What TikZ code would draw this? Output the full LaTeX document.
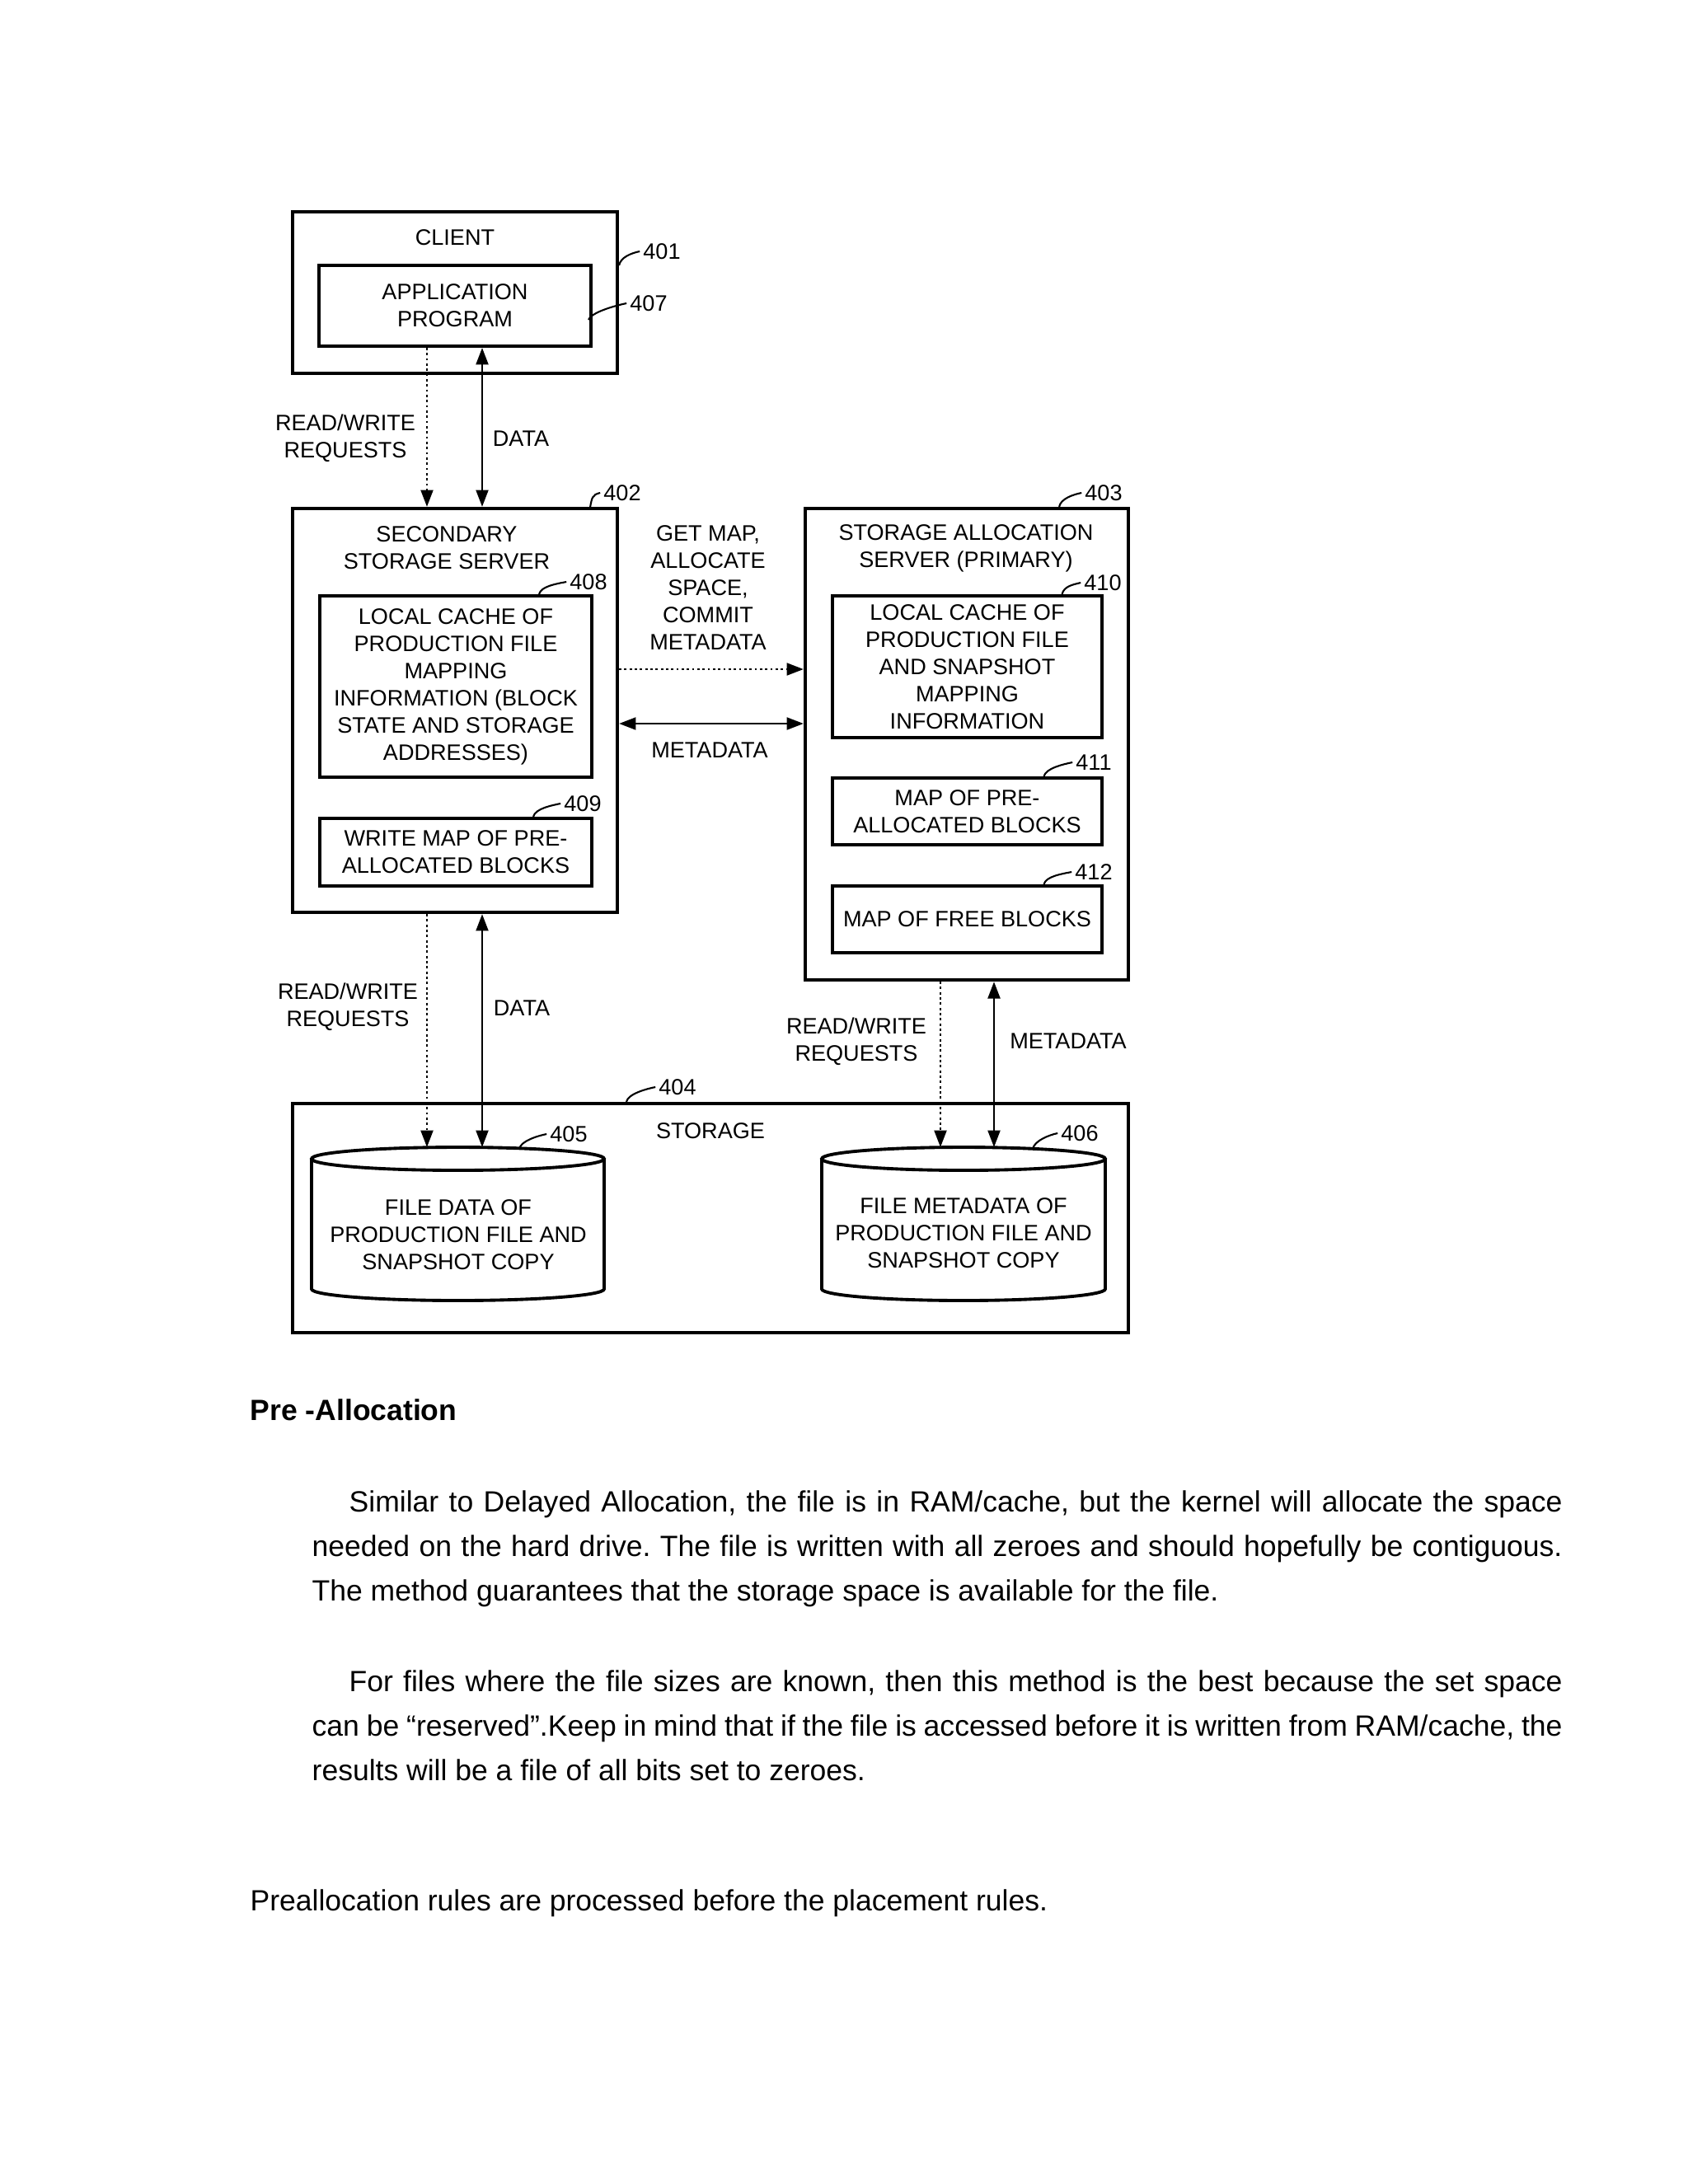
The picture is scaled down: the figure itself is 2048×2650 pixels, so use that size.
\documentclass[tikz,border=0pt]{standalone}
\usepackage{fontspec}
\setmainfont{Liberation Sans}
\usetikzlibrary{arrows.meta,positioning}

\begin{document}
\frenchspacing
\begin{tikzpicture}[x=0.01cm, y=-0.01cm,
  every node/.style={font=\fontsize{7.7}{9.4}\selectfont, align=center, inner sep=1pt},
  blk/.style={draw, rectangle, line width=1.1pt},
  outl/.style={line width=1.1pt},
  lead/.style={line width=0.6pt},
  dat/.style={line width=0.8pt, {Triangle[length=5.8pt,width=4.2pt]}-{Triangle[length=5.8pt,width=4.2pt]}},
  req/.style={line width=0.8pt, densely dotted, -{Triangle[length=5.8pt,width=4.2pt]}},
  body/.style={font=\fontsize{10.1}{15.4}\selectfont, inner sep=0pt}]

\useasboundingbox[fill=white] (0,0) rectangle (2048,2650);

% client
\node[blk, minimum width=3.94cm, minimum height=1.96cm] (client) at (552,355) {};
\node (clientlbl) at (552,288) {CLIENT};
\node[blk, minimum width=3.30cm, minimum height=0.98cm] (app) at (552,371) {APPLICATION\\PROGRAM};

% secondary storage server
\node[blk, minimum width=3.94cm, minimum height=4.90cm] (secondary) at (552,862) {};
\node (seclbl) at (542,665) {SECONDARY\\STORAGE SERVER};
\node[blk, minimum width=3.30cm, minimum height=2.20cm] (seccache) at (553,833)
  {LOCAL CACHE OF\\PRODUCTION FILE\\MAPPING\\INFORMATION (BLOCK\\STATE AND STORAGE\\ADDRESSES)};
\node[blk, minimum width=3.30cm, minimum height=0.82cm] (wmap) at (553,1034) {WRITE MAP OF PRE-\\ALLOCATED BLOCKS};

% primary server
\node[blk, minimum width=3.92cm, minimum height=5.72cm] (primary) at (1173,903) {};
\node (primlbl) at (1172,665) {STORAGE ALLOCATION\\SERVER (PRIMARY)};
\node[blk, minimum width=3.27cm, minimum height=1.72cm] (primcache) at (1173.5,809)
  {LOCAL CACHE OF\\PRODUCTION FILE\\AND SNAPSHOT\\MAPPING\\INFORMATION};
\node[blk, minimum width=3.27cm, minimum height=0.81cm] (pamap) at (1173.5,984.5) {MAP OF PRE-\\ALLOCATED BLOCKS};
\node[blk, minimum width=3.27cm, minimum height=0.81cm] (freemap) at (1173.5,1115.5) {MAP OF FREE BLOCKS};

% storage
\node[blk, minimum width=10.14cm, minimum height=2.78cm] (storage) at (862,1478) {};
\node (stlbl) at (862,1372) {STORAGE};

\draw[outl] (378,1406) -- (378,1564) arc[start angle=180, end angle=0, x radius=177.5, y radius=14] -- (733,1406);
\draw[outl] (555.5,1406) ellipse [x radius=177.5, y radius=14];
\coordinate (fdatatop) at (555.5,1392);
\node (fdata) at (556,1498) {FILE DATA OF\\PRODUCTION FILE AND\\SNAPSHOT COPY};

\draw[outl] (997,1406) -- (997,1564) arc[start angle=180, end angle=0, x radius=172, y radius=14] -- (1341,1406);
\draw[outl] (1169,1406) ellipse [x radius=172, y radius=14];
\coordinate (fmetatop) at (1169,1392);
\node (fmeta) at (1169,1496) {FILE METADATA OF\\PRODUCTION FILE AND\\SNAPSHOT COPY};

% connectors
\coordinate (xa) at (518,0);
\coordinate (xb) at (585,0);
\coordinate (xc) at (1141,0);
\coordinate (xd) at (1206,0);
\coordinate (ya) at (0,812);
\coordinate (yb) at (0,878);

\draw[req] (app.south -| xa) -- (secondary.north -| xa);
\draw[dat] (app.south -| xb) -- (secondary.north -| xb);
\draw[req] (secondary.east |- ya) -- (primary.west |- ya);
\draw[dat] (secondary.east |- yb) -- (primary.west |- yb);
\draw[req] (secondary.south -| xa) -- (fdatatop -| xa);
\draw[dat] (secondary.south -| xb) -- (fdatatop -| xb);
\draw[req] (primary.south -| xc) -- (fmetatop -| xc);
\draw[dat] (primary.south -| xd) -- (fmetatop -| xd);

\node (rw1) at (419,532) {READ/WRITE\\REQUESTS};
\node (data1) at (632,532) {DATA};
\node (getmap) at (859,713) {GET MAP,\\ALLOCATE\\SPACE,\\COMMIT\\METADATA};
\node (meta1) at (861,910) {METADATA};
\node (rw2) at (422,1222) {READ/WRITE\\REQUESTS};
\node (data2) at (633,1223) {DATA};
\node (rw3) at (1039,1264) {READ/WRITE\\REQUESTS};
\node (meta2) at (1296,1263) {METADATA};

% reference numbers
\node (n401) at (803,305) {401};
\node (n407) at (787,368) {407};
\node (n402) at (755,598) {402};
\node (n403) at (1339,598) {403};
\node (n408) at (714,706) {408};
\node (n409) at (707,975) {409};
\node (n410) at (1338,707) {410};
\node (n411) at (1327,925) {411};
\node (n412) at (1327,1058) {412};
\node (n404) at (822,1319) {404};
\node (n405) at (690,1376) {405};
\node (n406) at (1310,1375) {406};
\coordinate (c405) at (630,1394);
\coordinate (c406) at (1253,1394);

\draw[lead] ([yshift=0.33cm]client.east) .. controls +(2,-10) and +(-10,2) .. (n401.west);
\draw[lead] ([xshift=-0.05cm,yshift=-0.17cm]app.east) .. controls +(4,-10) and +(-10,2) .. (n407.west);
\draw[lead] ([xshift=1.64cm]secondary.north) .. controls +(2,-10) and +(-10,2) .. (n402.west);
\draw[lead] ([xshift=1.12cm]primary.north) .. controls +(2,-10) and +(-10,2) .. (n403.west);
\draw[lead] ([xshift=1.01cm]seccache.north) .. controls +(2,-10) and +(-10,2) .. (n408.west);
\draw[lead] ([xshift=0.94cm]wmap.north) .. controls +(2,-10) and +(-10,2) .. (n409.west);
\draw[lead] ([xshift=1.15cm]primcache.north) .. controls +(2,-10) and +(-8,2) .. (n410.west);
\draw[lead] ([xshift=0.93cm]pamap.north) .. controls +(2,-10) and +(-10,2) .. (n411.west);
\draw[lead] ([xshift=0.93cm]freemap.north) .. controls +(2,-10) and +(-10,2) .. (n412.west);
\draw[lead] ([xshift=-1.02cm]storage.north) .. controls +(2,-10) and +(-10,2) .. (n404.west);
\draw[lead] (c405) .. controls +(2,-10) and +(-10,2) .. (n405.west);
\draw[lead] (c406) .. controls +(2,-10) and +(-10,2) .. (n406.west);

% text below the figure
\node[body, anchor=base west, font=\fontsize{10.1}{15.4}\selectfont\bfseries] (head) at (303,1723) {Pre -Allocation};
\node[body, anchor=north west, text width=15.16cm, align=justify] (para1) at (378,1808)
  {\hspace*{0.45cm}Similar to Delayed Allocation, the file is in RAM/cache, but the kernel will allocate the space\linebreak
   needed on the hard drive. The file is written with all zeroes and should hopefully be contiguous.\linebreak
   The method guarantees that the storage space is available for the file.};
\node[body, anchor=north west, text width=15.16cm, align=justify] (para2) at (378,2026)
  {\hspace*{0.45cm}For files where the file sizes are known, then this method is the best because the set space\linebreak
   can be “reserved”.Keep in mind that if the file is accessed before it is written from RAM/cache, the\linebreak
   results will be a file of all bits set to zeroes.};
\node[body, anchor=base west] (rules) at (303,2318) {Preallocation rules are processed before the placement rules.};
\end{tikzpicture}
\end{document}
